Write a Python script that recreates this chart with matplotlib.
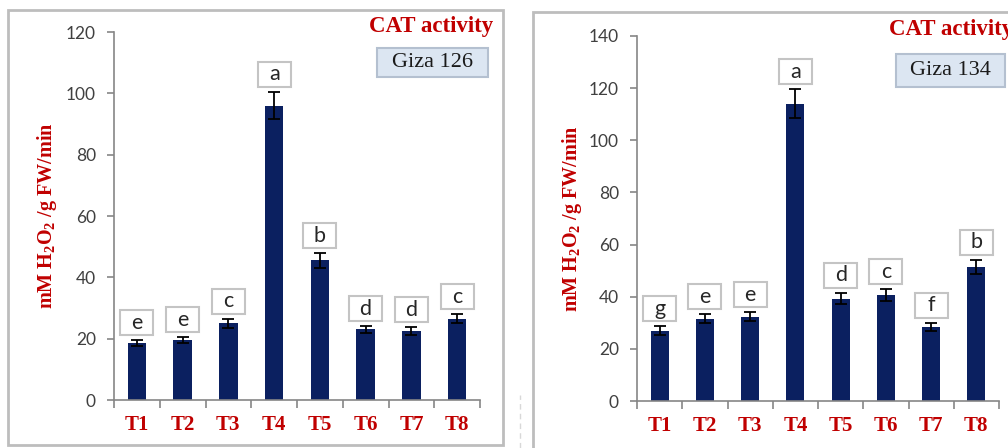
import numpy as np
import matplotlib
matplotlib.use("Agg")
import matplotlib.pyplot as plt
from matplotlib.patches import Rectangle

plt.rcParams['mathtext.fontset'] = 'custom'
plt.rcParams['mathtext.rm'] = 'Liberation Serif:bold'
plt.rcParams['mathtext.it'] = 'Liberation Serif:bold'
plt.rcParams['mathtext.bf'] = 'Liberation Serif:bold'

# data
treatments = ['T1', 'T2', 'T3', 'T4', 'T5', 'T6', 'T7', 'T8']

giza126_mean = [18.5, 19.5, 25.0, 96.0, 45.5, 23.0, 22.5, 26.5]
giza126_err = [1.0, 1.0, 1.5, 4.5, 2.3, 1.0, 1.3, 1.5]
giza126_letters = ['e', 'e', 'c', 'a', 'b', 'd', 'd', 'c']

giza134_mean = [27.0, 31.5, 32.3, 114.0, 39.3, 40.7, 28.5, 51.5]
giza134_err = [1.7, 1.7, 1.7, 5.5, 2.2, 2.2, 1.5, 2.7]
giza134_letters = ['g', 'e', 'e', 'a', 'd', 'c', 'f', 'b']

W, H = 1008, 448
BAR = '#0b2060'
RED = '#c00000'
GRAY = '#868686'

fig = plt.figure(figsize=(W / 100, H / 100), dpi=100)


def px_rect(x0, y0, x1, y1):
    # pixel box (top-left origin) -> figure fraction
    return [x0 / W, (H - y1) / H, (x1 - x0) / W, (y1 - y0) / H]


def panel(ax_px, frame_px, mean, err, letters, ymax, ystep, variety, title_x, title_y, giza_px, label_x):
    # outer frame
    fx0, fy0, fx1, fy1 = frame_px
    fig.patches.append(Rectangle((fx0 / W, (H - fy1) / H), (fx1 - fx0) / W, (fy1 - fy0) / H,
                                 transform=fig.transFigure, fill=False,
                                 edgecolor='#bdbdbd', linewidth=2))

    ax = fig.add_axes(px_rect(*ax_px))
    x = np.arange(len(treatments))
    ax.bar(x, mean, width=0.4, color=BAR, zorder=2)
    ax.errorbar(x, mean, yerr=err, fmt='none', ecolor='black', elinewidth=1.3,
                capsize=4.5, capthick=1.3, zorder=3)

    ax.set_xlim(-0.5, len(treatments) - 0.5)
    ax.set_ylim(0, ymax)
    ax.set_yticks(np.arange(0, ymax + 1, ystep))
    for s in ['top', 'right']:
        ax.spines[s].set_visible(False)
    for s in ['left', 'bottom']:
        ax.spines[s].set_color(GRAY)
        ax.spines[s].set_linewidth(1.2)

    ax.set_xticks(np.arange(-0.5, len(treatments)), minor=False)
    ax.set_xticklabels([])
    ax.set_xticks(x, minor=True)
    ax.set_xticklabels(treatments, minor=True, fontfamily='Liberation Serif',
                       fontweight='bold', fontsize=15, color=RED)
    ax.tick_params(axis='x', which='major', length=6, color=GRAY, width=1.2)
    ax.tick_params(axis='x', which='minor', length=0, pad=11)
    ax.tick_params(axis='y', length=5, color=GRAY, width=1.2, labelcolor='#404040',
                   labelsize=12.5, pad=8)
    for t in ax.get_yticklabels():
        t.set_fontfamily('Lato')

    # letter boxes, sized in pixels
    ax_w = ax_px[2] - ax_px[0]
    ax_h = ax_px[3] - ax_px[1]
    unit_x = ax_w / len(treatments)
    unit_y = ax_h / ymax
    bw, bh, gap = 33 / unit_x, 25 / unit_y, 5 / unit_y
    for xi, m, e, lab in zip(x, mean, err, letters):
        y0 = m + e + gap
        ax.add_patch(Rectangle((xi - bw / 2, y0), bw, bh, facecolor='white',
                               edgecolor='#c4c4c4', linewidth=1.5, zorder=4,
                               clip_on=False))
        ax.text(xi, y0 + bh / 2, lab, ha='center', va='center', fontsize=15.5,
                fontfamily='Lato', color='#262626', zorder=5)

    fig.text(label_x / W, 1 - (ax_px[1] + ax_px[3]) / 2 / H,
             r'mM H$_2$O$_2$ /g FW/min', rotation=90, ha='center', va='center',
             fontfamily='Liberation Serif', fontweight='bold', fontsize=14.5, color=RED)

    fig.text(title_x / W, 1 - title_y / H, 'CAT activity', ha='left', va='baseline',
             fontfamily='Liberation Serif', fontweight='bold', fontsize=16.5, color=RED)

    gx0, gy0, gx1, gy1 = giza_px
    fig.patches.append(Rectangle((gx0 / W, (H - gy1) / H), (gx1 - gx0) / W, (gy1 - gy0) / H,
                                 transform=fig.transFigure, facecolor='#dce6f2',
                                 edgecolor='#b4c0d0', linewidth=1.5))
    fig.text((gx0 + gx1) / 2 / W, 1 - (gy0 + gy1) / 2 / H, variety, ha='center',
             va='center', fontfamily='Liberation Serif', fontsize=16, color='#1a1a1a')
    return ax


panel((114, 32, 480, 400), (8, 10, 503, 445), giza126_mean, giza126_err, giza126_letters,
      120, 20, 'Giza 126', 369, 32, (377, 48, 488, 77), 47)
panel((637, 36, 999, 401), (533, 12, 1012, 452), giza134_mean, giza134_err, giza134_letters,
      140, 20, 'Giza 134', 889, 35, (896, 54, 1005, 87), 572)

# faint dotted mark between panels
fig.add_artist(plt.Line2D([520 / W, 520 / W], [0, (H - 395) / H], transform=fig.transFigure,
                          color='#d8d8d8', linewidth=1, linestyle=(0, (4, 3))))

fig.savefig('out.png', dpi=100)
